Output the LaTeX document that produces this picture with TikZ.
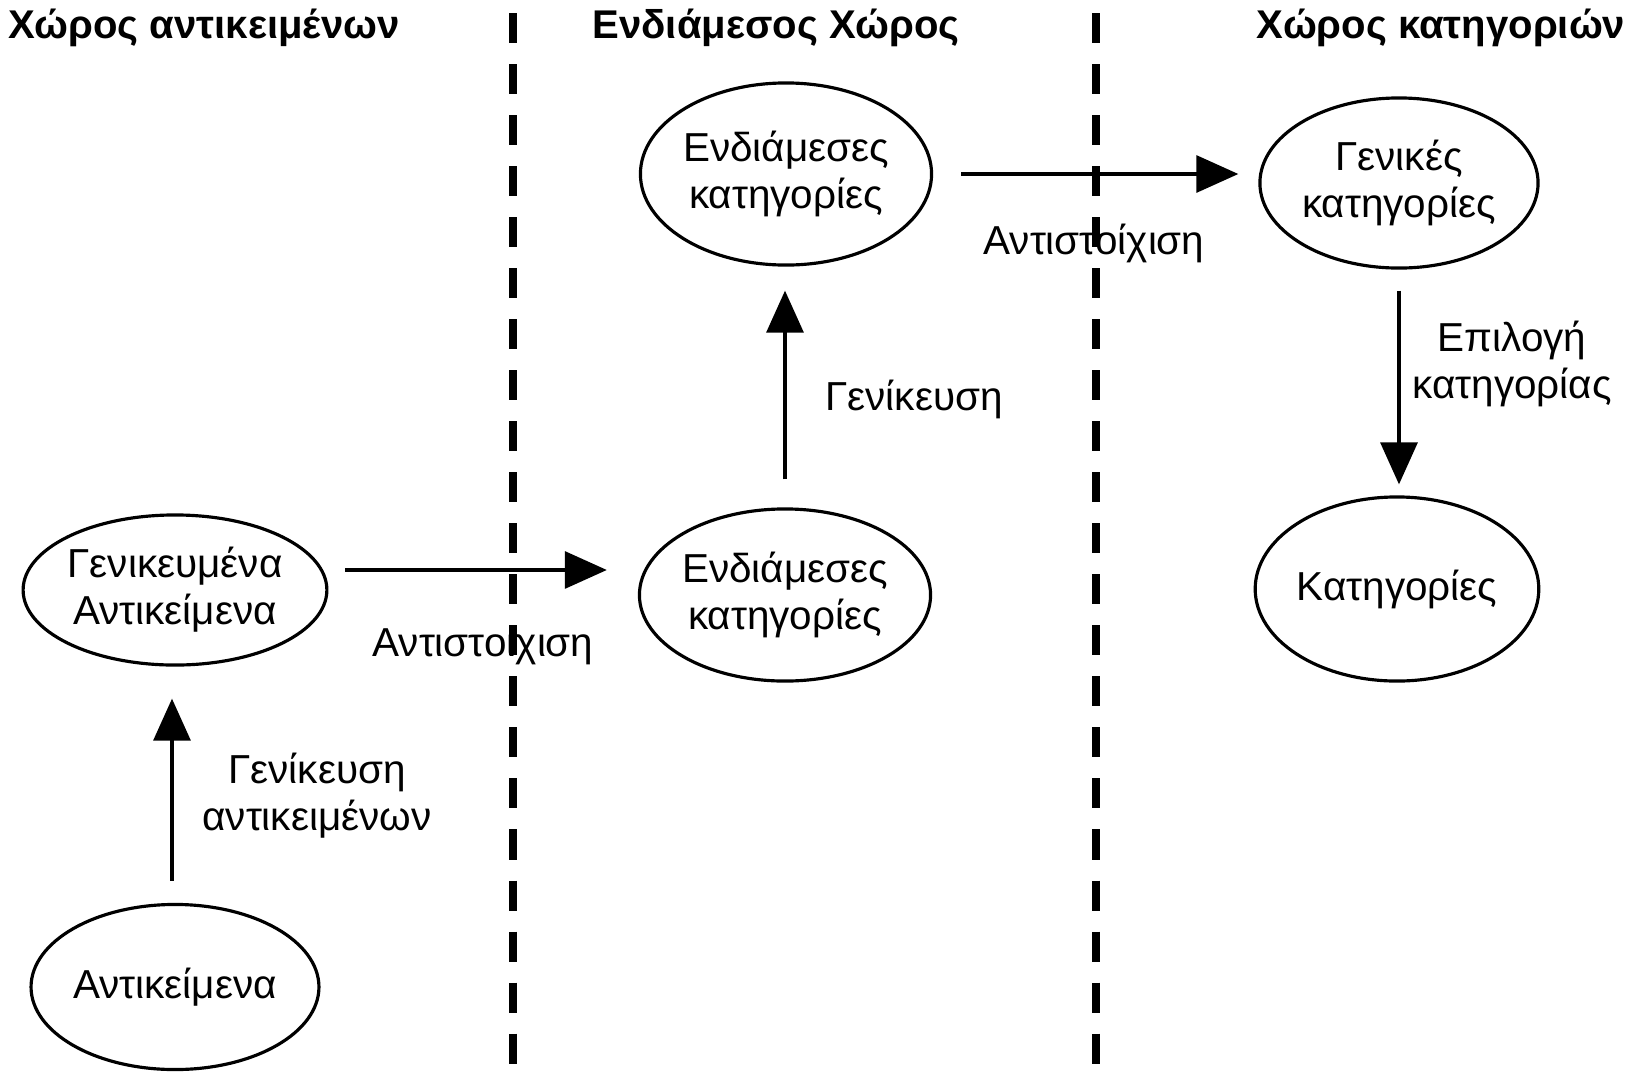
\documentclass[tikz,border=0pt]{standalone}
\usepackage{fontspec}
\setmainfont{Liberation Sans}
\usetikzlibrary{arrows.meta,shapes.geometric}

\begin{document}
\begin{tikzpicture}[x=0.01cm,y=-0.01cm,
  >={Triangle[length=4.2mm,width=3.7mm]},
  state/.style={ellipse,draw,line width=0.9pt,minimum width=27.8mm,
    minimum height=17mm,inner sep=0pt,align=center,
    font=\fontsize{11.5}{13.3}\selectfont},
  note/.style={align=center,font=\fontsize{11.5}{13.3}\selectfont},
  heading/.style={font=\fontsize{11.4}{14}\selectfont\bfseries},
  flow/.style={->,line width=0.9pt},
  border/.style={line width=0.08cm,dash pattern=on 3mm off 2.1mm}]
  \useasboundingbox (0,0) rectangle (1632,1078);

  % space borders
  \coordinate (b1top) at (513,13);
  \coordinate (b1bot) at (513,1066);
  \coordinate (b2top) at (1096,13);
  \coordinate (b2bot) at (1096,1066);
  \draw[border] (b1top) -- (b1bot);
  \draw[border] (b2top) -- (b2bot);

  \node[heading] (hobj) at (204,28) {Χώρος αντικειμένων};
  \node[heading] (hmid) at (776,28) {Ενδιάμεσος Χώρος};
  \node[heading] (hcat) at (1441,28) {Χώρος κατηγοριών};

  \node[state,minimum height=16.5mm] (obj) at (175,987) {Αντικείμενα};
  \node[state,minimum height=15mm] (genobj) at (175,590) {Γενικευμένα\\Αντικείμενα};
  \node[state,minimum height=17.2mm] (midlo) at (785,595) {Ενδιάμεσες\\κατηγορίες};
  \node[state,minimum height=18.2mm] (midhi) at (786,174) {Ενδιάμεσες\\κατηγορίες};
  \node[state] (gencat) at (1399,183) {Γενικές\\κατηγορίες};
  \node[state,minimum height=18.4mm] (cat) at (1397,589) {Κατηγορίες};

  \draw[flow,shorten <=2.2mm,shorten >=3.2mm]
    ([xshift=-0.3mm]obj.north) -- ([xshift=-0.3mm]obj.north |- genobj.south);
  \draw[flow,shorten <=1.7mm,shorten >=3.1mm]
    ([yshift=2mm]genobj.east) -- ([yshift=2mm]genobj.east -| midlo.west);
  \draw[flow,shorten <=2.8mm,shorten >=2.4mm] (midlo.north) -- (midlo.north |- midhi.south);
  \draw[flow,shorten <=2.8mm,shorten >=2mm] (midhi.east) -- (midhi.east -| gencat.west);
  \draw[flow,shorten <=2.1mm,shorten >=1.1mm] (gencat.south) -- (gencat.south |- cat.north);

  \node[note] (ngen1) at (317,796) {Γενίκευση\\αντικειμένων};
  \node[note] (nmap1) at (483,645) {Αντιστοίχιση};
  \node[note] (ngen2) at (914,399) {Γενίκευση};
  \node[note] (nmap2) at (1094,243) {Αντιστοίχιση};
  \node[note] (nsel) at (1512,364) {Επιλογή\\κατηγορίας};
\end{tikzpicture}
\end{document}
